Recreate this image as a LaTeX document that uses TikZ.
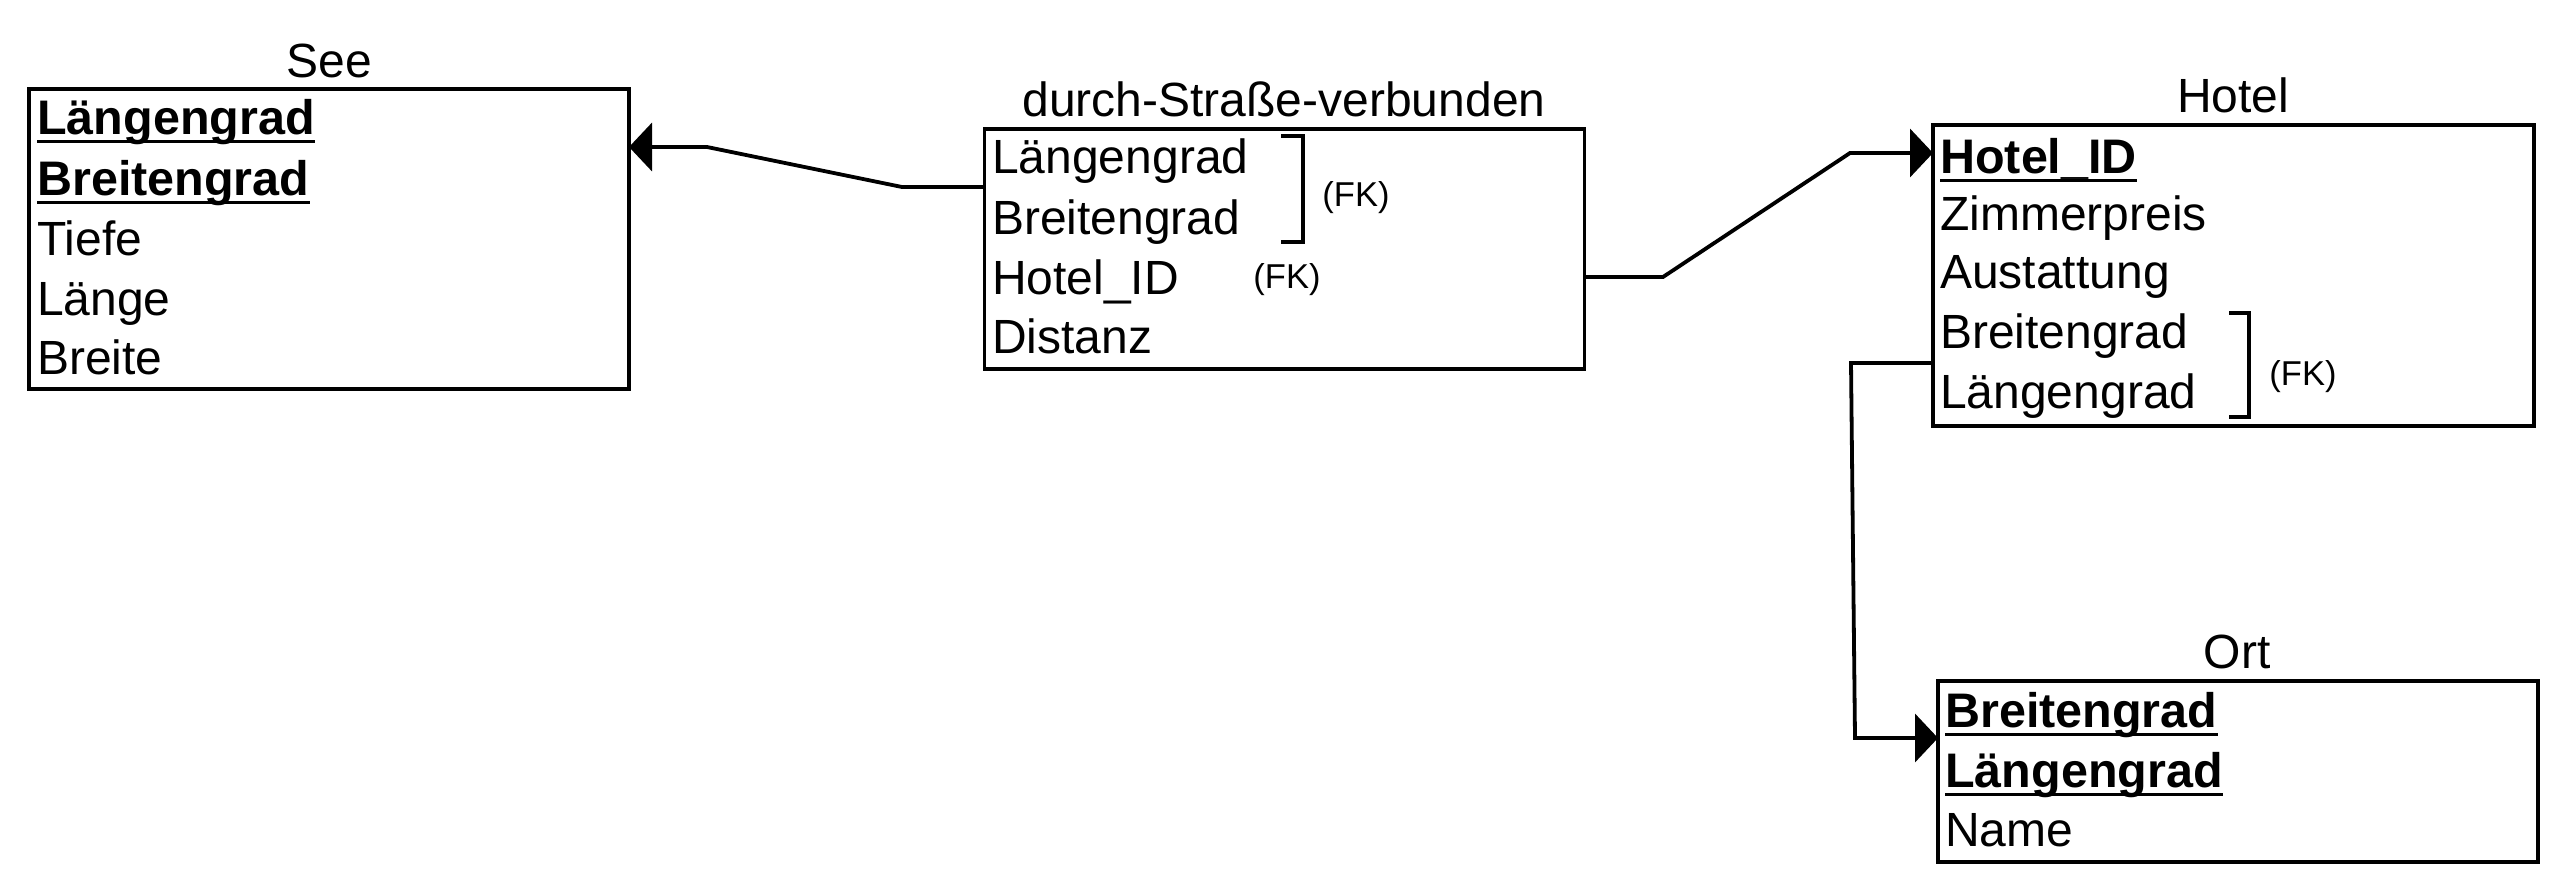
\documentclass[tikz,border=0pt]{standalone}
\usepackage{fontspec}
\setmainfont{Liberation Sans}
\usetikzlibrary{arrows.meta}
\begin{document}
\begin{tikzpicture}[x=1pt,y=-1pt,
  tbl/.style={draw, line width=3.8pt, inner sep=0pt, outer sep=0pt, anchor=north west},
  ttl/.style={anchor=base, inner sep=0pt, font=\fontsize{48}{58}\selectfont},
  row/.style={anchor=base west, inner sep=0pt, font=\fontsize{48}{58}\selectfont},
  key/.style={anchor=base west, inner sep=0pt, font=\fontsize{48.5}{58}\selectfont\bfseries},
  fk/.style={anchor=center, inner sep=0pt, font=\fontsize{34.5}{40}\selectfont},
  ul/.style={line width=3pt},
  brk/.style={line width=3.8pt},
  conn/.style={line width=3.8pt, -{Triangle[length=23pt,width=48pt]}}
]
\useasboundingbox (0,0) rectangle (2564,888);

% ---------- See ----------
\node[tbl, minimum width=600pt, minimum height=300pt] (see) at (29,89) {};
\node[ttl] (seeT) at (329,78) {See};
\node[key] (s1) at (37,135) {Längengrad};
\node[key] (s2) at (37,195) {Breitengrad};
\node[row] (s3) at (37,255) {Tiefe};
\node[row] (s4) at (37,315) {Länge};
\node[row] (s5) at (37,374) {Breite};
\draw[ul] ([yshift=-7pt]s1.base west) -- ([yshift=-7pt]s1.base east);
\draw[ul] ([yshift=-7pt]s2.base west) -- ([yshift=-7pt]s2.base east);

% ---------- durch-Strasse-verbunden ----------
\node[tbl, minimum width=600pt, minimum height=240pt] (dsv) at (984.5,129) {};
\node[ttl] (dsvT) at (1284,117) {durch-Straße-verbunden};
\node[row] (d1) at (992,173) {Längengrad};
\node[row] (d2) at (992,234) {Breitengrad};
\node[row] (d3) at (992,294) {Hotel\_ID};
\node[row] (d4) at (992,353) {Distanz};
\draw[brk] (1281,136) -- (1303,136) -- (1303,242) -- (1281,242);
\node[fk] (fk1) at (1356,198) {(FK)};
\node[fk] (fk2) at (1287,280) {(FK)};

% ---------- Hotel ----------
\node[tbl, minimum width=601pt, minimum height=301pt] (hotel) at (1933,125) {};
\node[ttl] (hotelT) at (2233,113) {Hotel};
\node[key] (h1) at (1940,173) {Hotel\_ID};
\node[row] (h2) at (1940,230) {Zimmerpreis};
\node[row] (h3) at (1940,288) {Austattung};
\node[row] (h4) at (1940,348) {Breitengrad};
\node[row] (h5) at (1940,408) {Längengrad};
\draw[ul] ([yshift=-7pt]h1.base west) -- ([yshift=-7pt]h1.base east);
\draw[brk] (2229,313) -- (2249,313) -- (2249,417) -- (2229,417);
\node[fk] (fk3) at (2303,377) {(FK)};

% ---------- Ort ----------
\node[tbl, minimum width=600pt, minimum height=181pt] (ort) at (1938,681) {};
\node[ttl] (ortT) at (2237,668) {Ort};
\node[key] (o1) at (1945,727) {Breitengrad};
\node[key] (o2) at (1945,787) {Längengrad};
\node[row] (o3) at (1945,846) {Name};
\draw[ul] ([yshift=-7pt]o1.base west) -- ([yshift=-7pt]o1.base east);
\draw[ul] ([yshift=-7pt]o2.base west) -- ([yshift=-7pt]o2.base east);

% ---------- connectors ----------
\coordinate (c1a) at (902,187);
\coordinate (c1b) at (707,147);
\draw[conn] (dsv.west |- c1a) -- (c1a) -- (c1b) -- (see.east |- c1b);

\coordinate (c2a) at (1663,277);
\coordinate (c2b) at (1850,153);
\draw[conn] (dsv.east |- c2a) -- (c2a) -- (c2b) -- (hotel.west |- c2b);

\coordinate (c3a) at (1851,363);
\coordinate (c3b) at (1855,738);
\draw[conn] (hotel.west |- c3a) -- (c3a) -- (c3b) -- (ort.west |- c3b);
\end{tikzpicture}
\end{document}
